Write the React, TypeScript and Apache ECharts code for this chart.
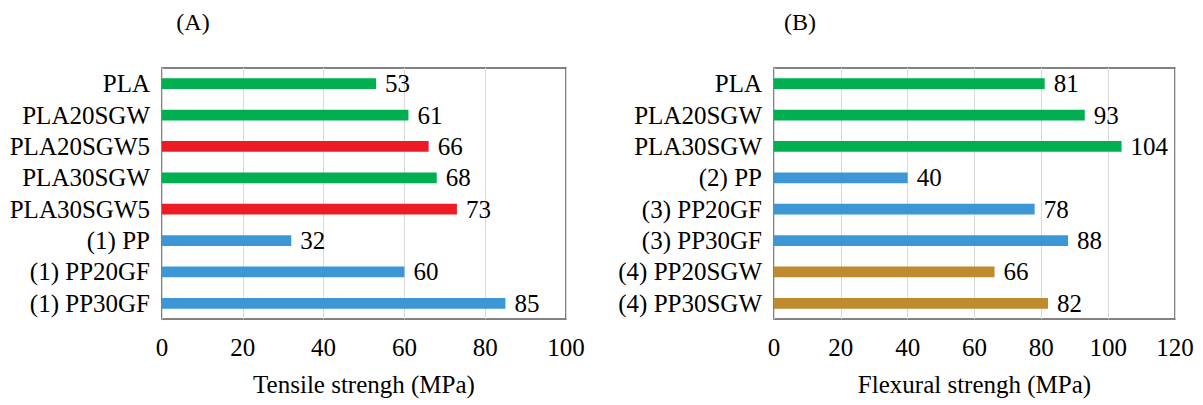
import React, { useEffect, useRef } from "react";
import * as echarts from "echarts";

const catsA = ["PLA", "PLA20SGW", "PLA20SGW5", "PLA30SGW", "PLA30SGW5", "(1) PP", "(1) PP20GF", "(1) PP30GF"];
const valsA = [53, 61, 66, 68, 73, 32, 60, 85];
const colorsA = ["#00b050", "#00b050", "#ed1c24", "#00b050", "#ed1c24", "#3d97d6", "#3d97d6", "#3d97d6"];

const catsB = ["PLA", "PLA20SGW", "PLA30SGW", "(2) PP", "(3) PP20GF", "(3) PP30GF", "(4) PP20SGW", "(4) PP30SGW"];
const valsB = [81, 93, 104, 40, 78, 88, 66, 82];
const colorsB = ["#00b050", "#00b050", "#00b050", "#3d97d6", "#3d97d6", "#3d97d6", "#c08a2e", "#c08a2e"];

const titleA = "(A)";
const titleB = "(B)";
const axisNameA = "Tensile strengh (MPa)";
const axisNameB = "Flexural strengh (MPa)";
const ticksMaxA = 100;
const ticksMaxB = 120;
const tickStep = 20;

const FONT = "Liberation Serif";
const FS = 25;

export default function App() {
  const ref = useRef<HTMLDivElement>(null);
  useEffect(() => {
    if (!ref.current) return;
    const chart = echarts.init(ref.current, null, { renderer: "svg" });
    const xAxisBase = (max: number, name: string, gridIndex: number) => ({
      type: "value",
      gridIndex,
      min: 0,
      max,
      interval: tickStep,
      name,
      nameLocation: "middle",
      nameGap: 53,
      nameTextStyle: { fontFamily: FONT, fontSize: FS, color: "#000" },
      axisLine: { show: false },
      axisTick: { show: false },
      axisLabel: { fontFamily: FONT, fontSize: FS, color: "#000", margin: 16 },
      splitLine: { show: true, lineStyle: { color: "#d9d9d9", width: 1 } },
    });
    const yAxisBase = (cats: string[], gridIndex: number) => ({
      type: "category",
      gridIndex,
      data: cats,
      inverse: true,
      axisLine: { show: false },
      axisTick: { show: false },
      splitLine: { show: false },
      axisLabel: { interval: 0, hideOverlap: false, fontFamily: FONT, fontSize: FS, color: "#000", margin: 12 },
    });
    const barSeries = (vals: number[], colors: string[], idx: number) => ({
      type: "bar",
      xAxisIndex: idx,
      yAxisIndex: idx,
      barWidth: "34%",
      data: vals.map((v, i) => ({ value: v, itemStyle: { color: colors[i] } })),
      label: {
        show: true,
        position: "right",
        distance: 9,
        fontFamily: FONT,
        fontSize: FS,
        color: "#000",
      },
    });
    chart.setOption({
      animation: false,
      backgroundColor: "#fff",
      grid: [
        { left: 162, top: 68, width: 404, height: 251, show: true, borderColor: "#5a5a5a", borderWidth: 1.5, backgroundColor: "transparent" },
        { left: 774, top: 68, width: 401, height: 251, show: true, borderColor: "#5a5a5a", borderWidth: 1.5, backgroundColor: "transparent" },
      ],
      xAxis: [xAxisBase(ticksMaxA, axisNameA, 0), xAxisBase(ticksMaxB, axisNameB, 1)],
      yAxis: [yAxisBase(catsA, 0), yAxisBase(catsB, 1)],
      series: [barSeries(valsA, colorsA, 0), barSeries(valsB, colorsB, 1)],
      graphic: [
        { type: "text", x: 193, y: 22, style: { text: titleA, fontFamily: FONT, fontSize: 24, fill: "#000", align: "center", verticalAlign: "middle" } },
        { type: "text", x: 800, y: 22, style: { text: titleB, fontFamily: FONT, fontSize: 24, fill: "#000", align: "center", verticalAlign: "middle" } },
      ],
    });
    return () => chart.dispose();
  }, []);
  return (
    <div
      ref={ref}
      style={{ position: "fixed", left: 0, top: 0, width: 1203, height: 405, background: "#fff" }}
    />
  );
}
